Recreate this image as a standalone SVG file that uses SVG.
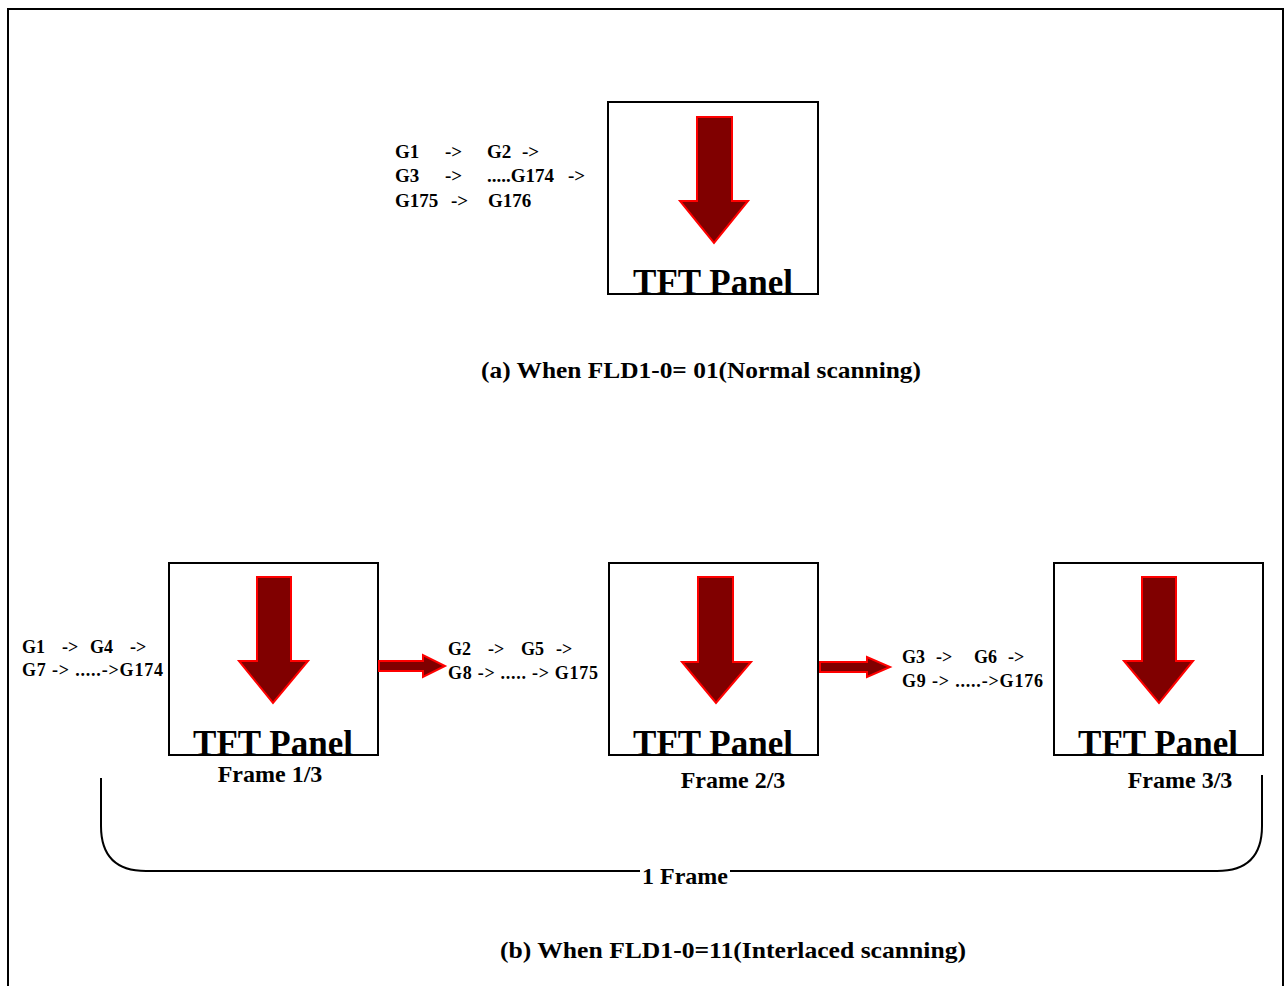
<svg xmlns="http://www.w3.org/2000/svg" width="1284" height="986" viewBox="0 0 1284 986">
<style>
.t{font-family:"Liberation Serif","Times New Roman",serif;font-weight:bold;fill:#000}
.g{font-size:19px}
.g2{font-size:18px}
.cap{font-size:24px}
.tft{font-size:35px;text-anchor:middle}
.fr{font-size:24px;text-anchor:middle}
.box{fill:#fff;stroke:#000;stroke-width:2}
.arr{fill:#800000;stroke:#ff0000;stroke-width:2;stroke-linejoin:miter}
.line{fill:none;stroke:#000;stroke-width:2}
</style>
<rect x="8" y="9" width="1275" height="990" fill="#fff" stroke="#000" stroke-width="2"/>

<g id="panel-a">
<rect class="box" x="608" y="102" width="210" height="192"/>
<polygon class="arr" points="697,117 732,117 732,201 748,201 714,243 680,201 697,201"/>
<text class="t tft" x="713" y="294">TFT Panel</text>
</g>
<g id="label-a" class="t g">
<text y="158"><tspan x="395">G1</tspan><tspan x="445">-&gt;</tspan><tspan x="487">G2</tspan><tspan x="522">-&gt;</tspan></text>
<text y="182"><tspan x="395">G3</tspan><tspan x="445">-&gt;</tspan><tspan x="487">.....G174</tspan><tspan x="568">-&gt;</tspan></text>
<text y="207"><tspan x="395">G175</tspan><tspan x="451">-&gt;</tspan><tspan x="488">G176</tspan></text>
</g>
<text id="caption-a" class="t cap" x="481" y="378" textLength="440" lengthAdjust="spacingAndGlyphs">(a) When FLD1-0= 01(Normal scanning)</text>

<g id="panel-1">
<rect class="box" x="169" y="563" width="209" height="192"/>
<polygon class="arr" points="257,577 291,577 291,661 308,661 273,703 239,661 257,661"/>
<text class="t tft" x="273" y="755">TFT Panel</text>
<text class="t fr" x="270" y="782">Frame 1/3</text>
</g>
<g id="panel-2">
<rect class="box" x="609" y="563" width="209" height="192"/>
<polygon class="arr" points="698,577 733,577 733,662 751,662 716,703 682,662 698,662"/>
<text class="t tft" x="713" y="755">TFT Panel</text>
<text class="t fr" x="733" y="788">Frame 2/3</text>
</g>
<g id="panel-3">
<rect class="box" x="1054" y="563" width="209" height="192"/>
<polygon class="arr" points="1142,577 1176,577 1176,661 1193,661 1159,703 1124,661 1142,661"/>
<text class="t tft" x="1158" y="755">TFT Panel</text>
<text class="t fr" x="1180" y="788">Frame 3/3</text>
</g>

<g id="label-1" class="t g2">
<text y="653"><tspan x="22">G1</tspan><tspan x="62">-&gt;</tspan><tspan x="90">G4</tspan><tspan x="130">-&gt;</tspan></text>
<text x="22" y="676" textLength="141" lengthAdjust="spacing">G7 -&gt; .....-&gt;G174</text>
</g>
<g id="label-2" class="t g2">
<text y="655"><tspan x="448">G2</tspan><tspan x="488">-&gt;</tspan><tspan x="521">G5</tspan><tspan x="556">-&gt;</tspan></text>
<text x="448" y="679" textLength="150" lengthAdjust="spacing">G8 -&gt; ..... -&gt; G175</text>
</g>
<g id="label-3" class="t g2">
<text y="663"><tspan x="902">G3</tspan><tspan x="936">-&gt;</tspan><tspan x="974">G6</tspan><tspan x="1008">-&gt;</tspan></text>
<text x="902" y="687" textLength="141" lengthAdjust="spacing">G9 -&gt; .....-&gt;G176</text>
</g>

<g id="connectors">
<polygon class="arr" points="379,661 423,661 423,655 445,666 423,677 423,671 379,671"/>
<polygon class="arr" points="820,662 867,662 867,657 890,667 867,677 867,672 820,672"/>
<path class="line" d="M101,778 V826 Q101,871 146,871 H640 M730,871 H1217 Q1262,871 1262,826 V775"/>
</g>
<text id="frame-label" class="t fr" x="685" y="884">1 Frame</text>
<text id="caption-b" class="t cap" x="500" y="958" textLength="466" lengthAdjust="spacingAndGlyphs">(b) When FLD1-0=11(Interlaced scanning)</text>
</svg>
